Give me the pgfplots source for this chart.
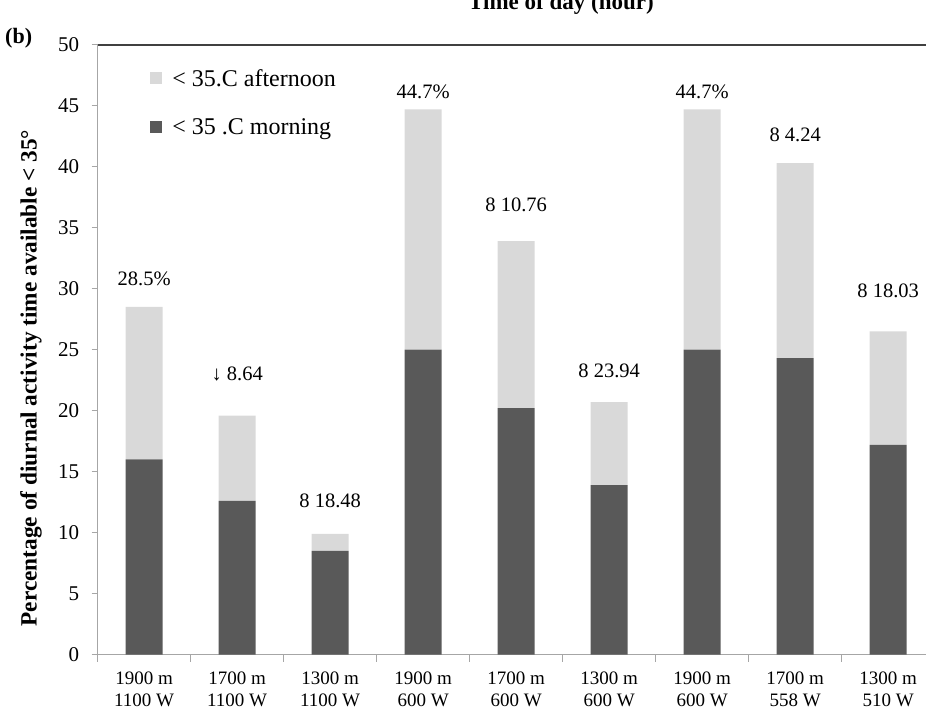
\documentclass[border=0pt]{standalone}
\usepackage{pgfplots}
\pgfplotsset{compat=1.18}
\usepackage{pgfplotstable}
\usepackage{fontspec}
\setmainfont{Liberation Serif}

\definecolor{morningc}{HTML}{595959}
\definecolor{afternoonc}{HTML}{D9D9D9}
\definecolor{axisgray}{HTML}{A6A6A6}
\definecolor{topline}{HTML}{404040}

% share of diurnal activity time below 35 C, per site (morning + afternoon)
\pgfplotstableread{
x morning afternoon
0 16.0 12.5
1 12.6 7.0
2 8.5 1.4
3 25.0 19.7
4 20.2 13.7
5 13.9 6.8
6 25.0 19.7
7 24.3 16.0
8 17.2 9.3
}\sitedata

\begin{document}
\begin{tikzpicture}[x=1pt,y=1pt]
\begin{axis}[
  at={(105,47)}, anchor=south west,
  scale only axis, width=837pt, height=610pt,
  ybar stacked, bar width=37pt,
  legend image code/.code={\fill[#1] (0pt,-6pt) rectangle (12pt,6pt);},
  xmin=-0.5, xmax=8.5, ymin=0, ymax=50,
  ytick={0,5,...,50},
  xtick={0,...,8},
  xticklabels={{1900 m\\1100 W},{1700 m\\1100 W},{1300 m\\1100 W},
               {1900 m\\600 W},{1700 m\\600 W},{1300 m\\600 W},
               {1900 m\\600 W},{1700 m\\558 W},{1300 m\\510 W}},
  minor xtick={-0.5,0.5,...,8.5},
  major x tick style={draw=none},
  tick align=outside,
  major tick length=6pt, minor tick length=7pt,
  axis x line*=bottom, axis y line*=left,
  axis line style={axisgray, line width=1.2pt},
  tick style={axisgray, line width=1pt},
  /pgf/number format/assume math mode=true,
  yticklabel style={font=\fontsize{21}{24}\selectfont, xshift=-9pt},
  xticklabel style={align=center, font=\fontsize{19}{22}\selectfont,
    inner sep=0pt, yshift=-11pt},
  legend style={at={(0.0627,0.9635)}, anchor=north west, draw=none, fill=none,
    inner sep=0pt, row sep=27pt, column sep=8pt,
    font=\fontsize{24}{27}\selectfont},
  legend cell align=left,
  reverse legend,
]
\addplot[fill=morningc, draw=none] table[x=x, y=morning] {\sitedata};
\addlegendentry{< 35 .C morning}
\addplot[fill=afternoonc, draw=none] table[x=x, y=afternoon] {\sitedata};
\addlegendentry{< 35.C afternoon}

% dark rule along the top of the plot area
\draw[topline, line width=2pt] (rel axis cs:0,1) -- (rel axis cs:1,1);

% annotations above the bars
\node[font=\fontsize{20.5}{24}\selectfont] at (axis cs:0,30.8) {28.5\%};
\node[font=\fontsize{20.5}{24}\selectfont] at (axis cs:1,23.0) {↓ 8.64};
\node[font=\fontsize{20.5}{24}\selectfont] at (axis cs:2,12.65) {8 18.48};
\node[font=\fontsize{20.5}{24}\selectfont] at (axis cs:3,46.1) {44.7\%};
\node[font=\fontsize{20.5}{24}\selectfont] at (axis cs:4,36.9) {8 10.76};
\node[font=\fontsize{20.5}{24}\selectfont] at (axis cs:5,23.3) {8 23.94};
\node[font=\fontsize{20.5}{24}\selectfont] at (axis cs:6,46.1) {44.7\%};
\node[font=\fontsize{20.5}{24}\selectfont] at (axis cs:7,42.65) {8 4.24};
\node[font=\fontsize{20.5}{24}\selectfont] at (axis cs:8,29.8) {8 18.03};
\end{axis}

\node[rotate=90, font=\bfseries\fontsize{23.3}{27}\selectfont] at (31,334)
  {Percentage of diurnal activity time available < 35°};
\node[anchor=base, font=\bfseries\fontsize{23}{27}\selectfont] at (561,702)
  {Time of day (hour)};
\node[anchor=base west, inner sep=0pt, font=\bfseries\fontsize{22}{26}\selectfont] at (5,668)
  {(b)};

\pgfresetboundingbox
\path[use as bounding box] (0,0) rectangle (926,712);
\end{tikzpicture}
\end{document}
